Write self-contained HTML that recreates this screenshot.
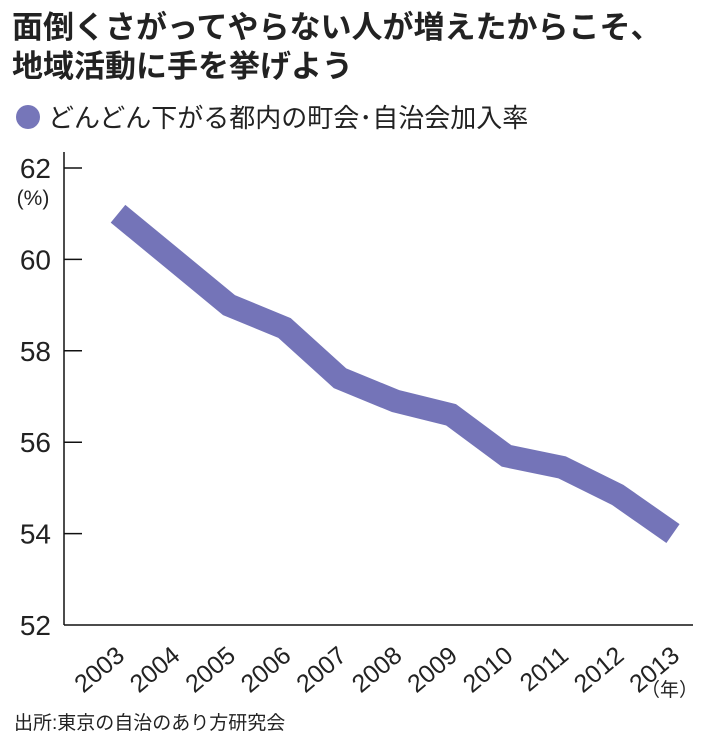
<!DOCTYPE html>
<html><head><meta charset="utf-8">
<style>
body{margin:0;background:#fff;}
svg{display:block;font-family:"Liberation Sans","Noto Sans CJK JP",sans-serif;}
</style></head><body>
<svg width="710" height="741" viewBox="0 0 710 741">
<text x="12" y="38" font-size="31" font-weight="bold" fill="#222">面倒くさがってやらない人が増えたからこそ、</text>
<text x="12" y="77" font-size="31" font-weight="bold" fill="#222">地域活動に手を挙げよう</text>
<circle cx="28" cy="117" r="12" fill="#7676b9"/>
<text x="48" y="127" font-size="26" fill="#222">どんどん下がる都内の町会･自治会加入率</text>
<g id="axes"></g>
<g id="plot"></g>
<text x="698" y="696" font-size="19" text-anchor="end" fill="#222">（年）</text>
<text x="14" y="729" font-size="19" fill="#222">出所:東京の自治のあり方研究会</text>
</svg>
<script>
const years=["2003","2004","2005","2006","2007","2008","2009","2010","2011","2012","2013"];
const rates=[61.0,60.0,59.0,58.5,57.4,56.9,56.6,55.7,55.45,54.85,54.0];
const yTicks=[52,54,56,58,60,62];
const NS="http://www.w3.org/2000/svg";
const x0=64,yMin=52,yMax=62,yB=625,yT=168;
const xs=i=>118+i*55.5;
const ys=v=>yB-(v-yMin)/(yMax-yMin)*(yB-yT);
const axes=document.getElementById('axes'),plot=document.getElementById('plot');
function mk(t,a,p){const e=document.createElementNS(NS,t);for(const k in a)e.setAttribute(k,a[k]);p.appendChild(e);return e;}
let e=mk('line',{x1:x0,y1:152,x2:x0,y2:yB,stroke:'#111','stroke-width':1.5},axes);


e=mk('line',{x1:x0,y1:yB,x2:693,y2:yB,stroke:'#111','stroke-width':1.5},axes);


yTicks.forEach(v=>{
 const y=ys(v);
 if(v!==yMin){const t=mk('line',{x1:x0,y1:y,x2:x0+18,y2:y,stroke:'#111','stroke-width':1.5},axes);
 
 }
 const l=mk('text',{x:51,y:y+10,'font-size':28,'text-anchor':'end',fill:'#222'},axes);
 l.textContent=v;
 
 
});
const u=mk('text',{x:33,y:205,'font-size':21,'text-anchor':'middle',fill:'#222'},axes);
u.textContent='(%)';


years.forEach((yr,i)=>{
 const x=xs(i)+8,y=658;
 const t=mk('text',{x:x,y:y,'font-size':25,'text-anchor':'end',fill:'#222',transform:`rotate(-40 ${x} ${y})`},axes);
 t.textContent=yr;
 
 
});
const pts=rates.map((v,i)=>xs(i)+','+ys(v)).join(' ');
const pl=mk('polyline',{points:pts,fill:'none',stroke:'#7474b8','stroke-width':23,'stroke-linejoin':'miter','stroke-linecap':'butt'},plot);


</script>
</body></html>
